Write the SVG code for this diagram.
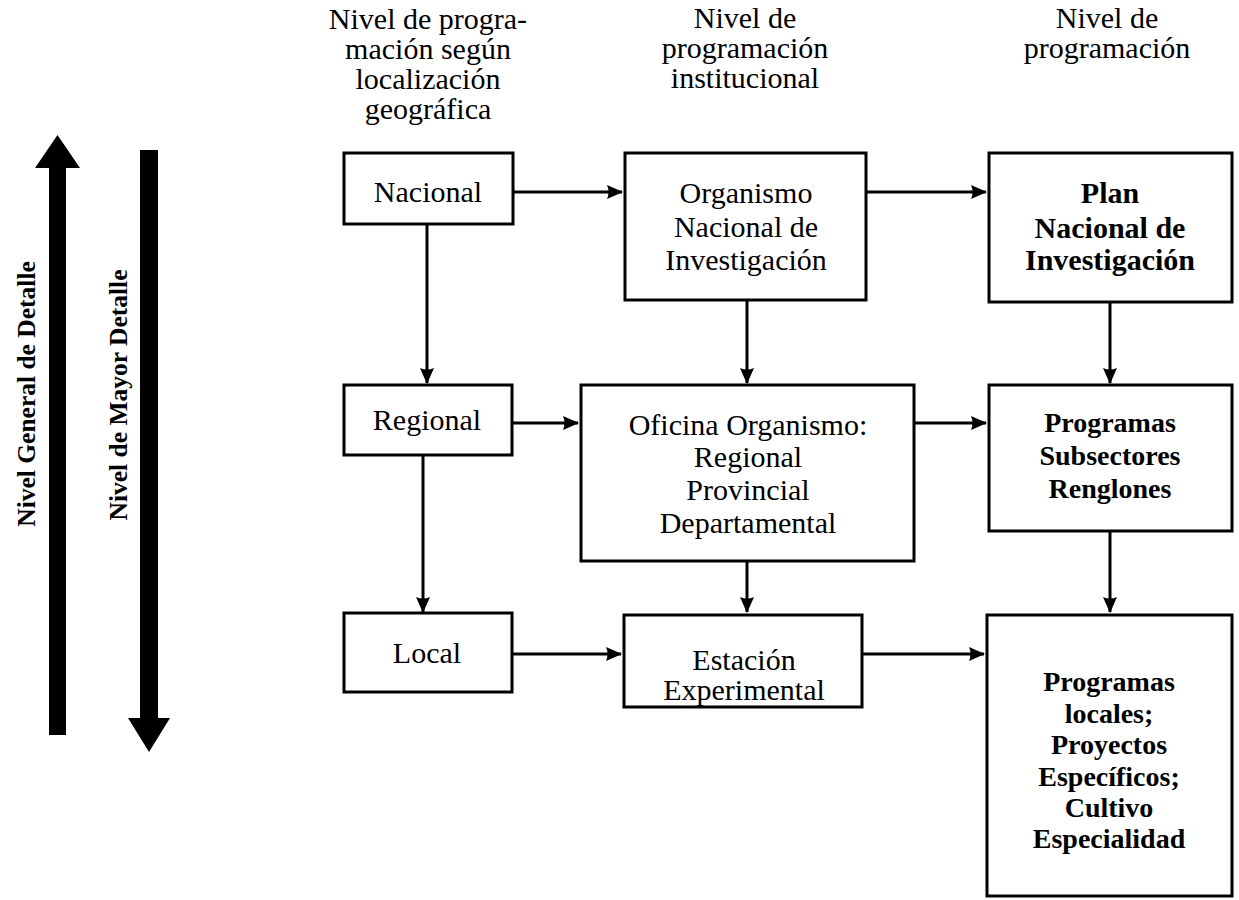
<svg xmlns="http://www.w3.org/2000/svg" width="1239" height="900" viewBox="0 0 1239 900">
  <defs>
    <marker id="head" markerUnits="userSpaceOnUse" markerWidth="16" markerHeight="14" refX="15" refY="7" orient="auto">
      <path d="M0,0 L16,7 L0,14 Q3,7 0,0 Z" fill="#000"/>
    </marker>
    <style>
      text { font-family: "Liberation Serif", "Times New Roman", serif; font-size: 30px; fill: #000; text-anchor: middle; }
      .b { font-weight: bold; font-size: 28px; }
      .bl { font-weight: bold; font-size: 30px; }
      .side { font-weight: bold; font-size: 25.5px; }
      .box { fill: #fff; stroke: #000; stroke-width: 3; }
      .link { stroke: #000; stroke-width: 3; fill: none; marker-end: url(#head); }
    </style>
  </defs>
  <rect width="1239" height="900" fill="#fff"/>

  <!-- side scale arrows -->
  <g id="scale-general">
    <path d="M49,735 L49,168 L35,168 L57.5,135 L80,168 L66,168 L66,735 Z" fill="#000"/>
    <text class="side" transform="translate(35,394) rotate(-90)">Nivel General de Detalle</text>
  </g>
  <g id="scale-mayor">
    <path d="M140,150 L158,150 L158,718 L170,718 L149,752 L128,718 L140,718 Z" fill="#000"/>
    <text class="side" transform="translate(127,395) rotate(-90)">Nivel de Mayor Detalle</text>
  </g>

  <!-- column headers -->
  <g id="header-geo">
    <text x="428" y="29">Nivel de progra-</text>
    <text x="428" y="59">mación según</text>
    <text x="428" y="89">localización</text>
    <text x="428" y="119">geográfica</text>
  </g>
  <g id="header-inst">
    <text x="745" y="28">Nivel de</text>
    <text x="745" y="58">programación</text>
    <text x="745" y="88">institucional</text>
  </g>
  <g id="header-prog">
    <text x="1107" y="28">Nivel de</text>
    <text x="1107" y="58">programación</text>
  </g>

  <!-- connectors -->
  <g id="connectors">
    <line class="link" x1="513" y1="192" x2="622" y2="192"/>
    <line class="link" x1="866" y1="192" x2="986" y2="192"/>
    <line class="link" x1="427" y1="224" x2="427" y2="383"/>
    <line class="link" x1="747" y1="300" x2="747" y2="383"/>
    <line class="link" x1="1110" y1="302" x2="1110" y2="383"/>
    <line class="link" x1="512" y1="423" x2="578" y2="423"/>
    <line class="link" x1="914" y1="423" x2="986" y2="423"/>
    <line class="link" x1="423" y1="455" x2="423" y2="612"/>
    <line class="link" x1="747" y1="561" x2="747" y2="612"/>
    <line class="link" x1="1110" y1="531" x2="1110" y2="612"/>
    <line class="link" x1="512" y1="654" x2="621" y2="654"/>
    <line class="link" x1="862" y1="654" x2="984" y2="654"/>
  </g>

  <!-- geographic level -->
  <g id="nacional">
    <rect class="box" x="344" y="153" width="169" height="71"/>
    <text x="428" y="202">Nacional</text>
  </g>
  <g id="regional">
    <rect class="box" x="344" y="385" width="168" height="70"/>
    <text x="427" y="430">Regional</text>
  </g>
  <g id="local">
    <rect class="box" x="344" y="613" width="168" height="79"/>
    <text x="427" y="663">Local</text>
  </g>

  <!-- institutional level -->
  <g id="organismo">
    <rect class="box" x="625" y="153" width="241" height="147"/>
    <text x="746" y="203">Organismo</text>
    <text x="746" y="237">Nacional de</text>
    <text x="746" y="270">Investigación</text>
  </g>
  <g id="oficina">
    <rect class="box" x="581" y="385" width="333" height="176"/>
    <text x="748" y="435">Oficina Organismo:</text>
    <text x="748" y="467">Regional</text>
    <text x="748" y="500">Provincial</text>
    <text x="748" y="533">Departamental</text>
  </g>
  <g id="estacion">
    <rect class="box" x="624" y="615" width="238" height="92"/>
    <text x="744" y="670">Estación</text>
    <text x="744" y="700">Experimental</text>
  </g>

  <!-- programming level -->
  <g id="plan">
    <rect class="box" x="989" y="153" width="243" height="149"/>
    <text class="bl" x="1110" y="203">Plan</text>
    <text class="bl" x="1110" y="238">Nacional de</text>
    <text class="bl" x="1110" y="270">Investigación</text>
  </g>
  <g id="programas">
    <rect class="box" x="989" y="385" width="243" height="146"/>
    <text class="b" x="1110" y="432">Programas</text>
    <text class="b" x="1110" y="465">Subsectores</text>
    <text class="b" x="1110" y="498">Renglones</text>
  </g>
  <g id="programas-locales">
    <rect class="box" x="987" y="615" width="245" height="281"/>
    <text class="b" x="1109" y="691">Programas</text>
    <text class="b" x="1109" y="723">locales;</text>
    <text class="b" x="1109" y="754">Proyectos</text>
    <text class="b" x="1109" y="786">Específicos;</text>
    <text class="b" x="1109" y="817">Cultivo</text>
    <text class="b" x="1109" y="848">Especialidad</text>
  </g>
</svg>
